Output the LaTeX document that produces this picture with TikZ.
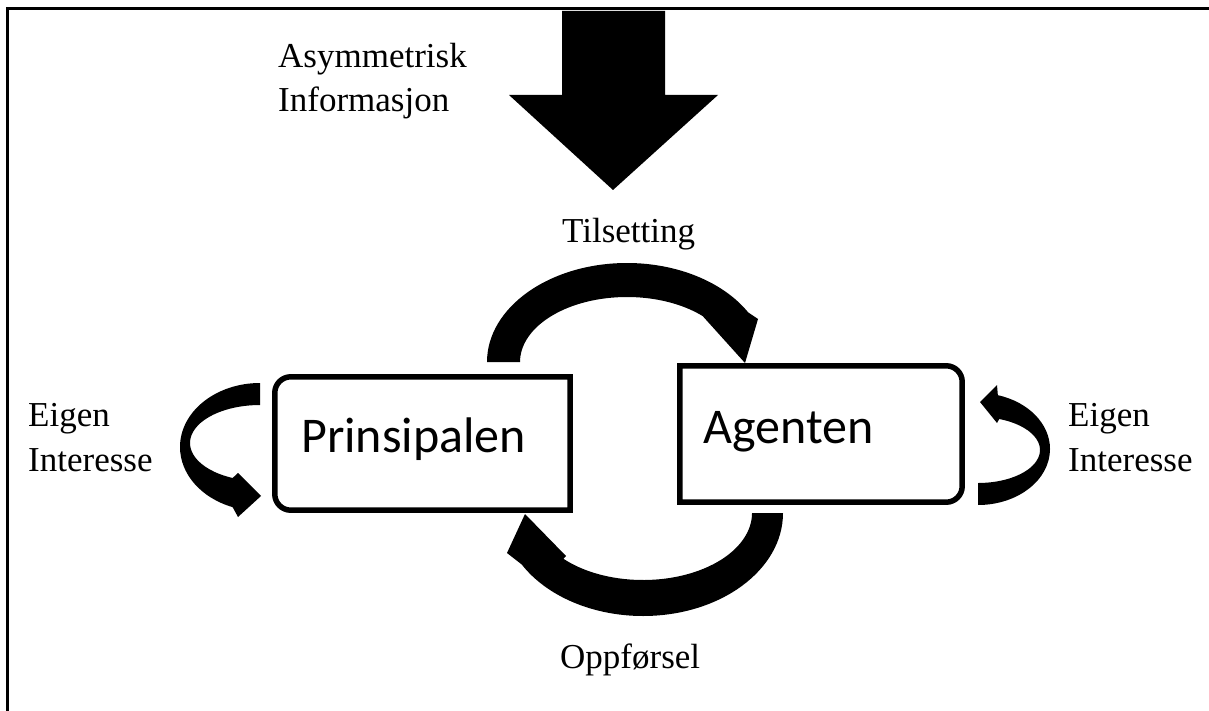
\documentclass[tikz,border=0pt]{standalone}
\usepackage{fontspec}
\setmainfont{Liberation Serif}
\newfontfamily\calfont{Carlito}
\usetikzlibrary{calc}
\tikzset{
  lbl/.style={font=\fontsize{35}{44.5}\selectfont, inner sep=0pt, align=left, anchor=base west},
  boxlbl/.style={font=\calfont\fontsize{50}{60}\selectfont, inner sep=0pt, anchor=base west},
  boxarea/.style={rectangle, draw=none, inner sep=0pt},
  border/.style={line width=5.5pt, line join=miter},
  band/.style={fill=black},
  frameline/.style={line width=3pt}
}
\begin{document}
\begin{tikzpicture}[x=1pt, y=-1pt]
\useasboundingbox (0,0) rectangle (1209,711);
% frame
\draw[frameline] (7,711) -- (7,9) -- (1209,9);
% big block arrow
\fill[band] (562,11) -- (665,11) -- (665,95) -- (718,95) -- (613,190) -- (509,95) -- (562,95) -- cycle;
% boxes
\node[boxarea, minimum width=295pt, minimum height=133pt] (P) at (422.5,443.5) {};
\node[boxarea, minimum width=282pt, minimum height=136pt] (A) at (821,434) {};
\draw[border] (P.north east) -- ($(P.north west)+(16,0)$) arc[start angle=270, end angle=180, radius=16]
  -- ($(P.south west)+(0,-16)$) arc[start angle=180, end angle=90, radius=16] -- (P.south east) -- cycle;
\draw[border] (A.north west) -- ($(A.north east)+(-16,0)$) arc[start angle=270, end angle=360, radius=16]
  -- ($(A.south east)+(0,-16)$) arc[start angle=0, end angle=90, radius=16] -- (A.south west) -- cycle;
\node[boxlbl] (ptxt) at (301,452) {Prinsipalen};
\node[boxlbl] (atxt) at (703,443) {Agenten};
% curved arrows
\fill[band] (487,362) arc[start angle=180, end angle=330, x radius=140, y radius=99]
  -- (758,319) -- (745,363) -- (702.66,316.04)
  arc[start angle=315, end angle=180, x radius=107, y radius=65] -- cycle;
\fill[band] (783,513) arc[start angle=0, end angle=150, x radius=140, y radius=103]
  -- (507,553) -- (525,514) -- (566,556) -- (563.3,558.7)
  arc[start angle=137, end angle=0, x radius=109, y radius=67] -- cycle;
\fill[band] (260,383) arc[start angle=270, end angle=110, x radius=80, y radius=64]
  -- (238,517) -- (261,496) -- (238,473) -- (232.65,477.98)
  arc[start angle=113, end angle=270, x radius=70, y radius=38] -- cycle;
\fill[band] (978,505) arc[start angle=90, end angle=-74, x radius=72, y radius=56]
  -- (997,385) -- (980,402) -- (997,423) -- (999.2,419)
  arc[start angle=-70, end angle=90, x radius=62, y radius=33] -- cycle;
% labels (base anchor = baseline of the last line)
\node[lbl] (asym) at (278,112) {Asymmetrisk\\Informasjon};
\node[lbl] (tils) at (562,243) {Tilsetting};
\node[lbl] (oppf) at (560,668) {Oppførsel};
\node[lbl] (eigL) at (28,471) {Eigen\\Interesse};
\node[lbl] (eigR) at (1068,471) {Eigen\\Interesse};
\end{tikzpicture}
\end{document}
